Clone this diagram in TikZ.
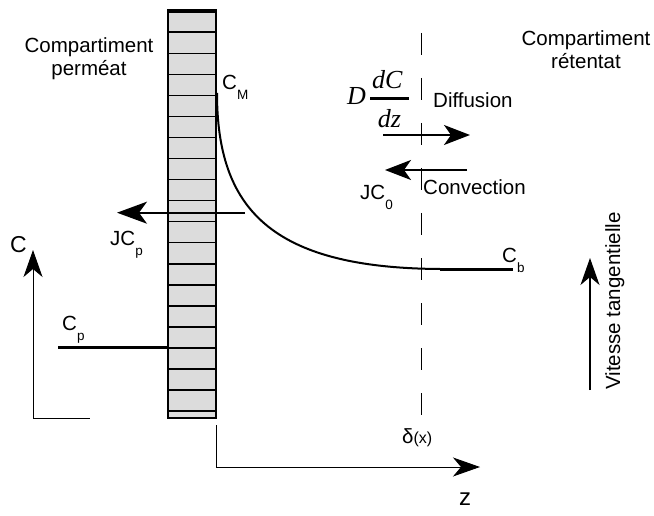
\documentclass[tikz,border=0pt]{standalone}
\usepackage{amsmath}
\usepackage{fontspec}
\setmainfont{Liberation Sans}
\newfontfamily\tmsfont{Liberation Serif}
\usepackage{tikz}
\usetikzlibrary{positioning, arrows.meta}
\definecolor{membGray}{HTML}{DCDCDC}
\newcommand{\lowsub}[1]{\raisebox{-10pt}{\fontsize{13.5}{14}\selectfont #1}}

\begin{document}
\begin{tikzpicture}[x=1pt, y=-1pt, font=\fontsize{20.5}{23}\selectfont,
  lbl/.style={inner sep=0pt, anchor=base west},
  flux/.style={-{Stealth[length=26pt, width=20pt, inset=7pt]}, line width=1.8pt},
  axis/.style={-{Stealth[length=27pt, width=19pt, inset=8pt]}, line width=0.9pt},
  level/.style={line width=3pt}]
  \useasboundingbox (0,0) rectangle (654,516);
  % membrane
  \node[draw, line width=1.6pt, fill=membGray, inner sep=0pt,
        minimum width=48pt, minimum height=406pt] (memb) at (192,215) {};
  \foreach \k in {1,...,19}
    \draw[line width=1.5pt] ([yshift={-21.05*\k}]memb.north west) -- ([yshift={-21.05*\k}]memb.north east);
  \draw[line width=3.5pt] (memb.north west) -- (memb.north east);
  % labels
  \node[anchor=north, align=center, inner sep=0pt] (perm) at (89,37) {Compartiment\\perméat};
  \node[anchor=north, align=center, inner sep=0pt] (ret) at (586,30) {Compartiment\\rétentat};
  \node[lbl] (cm) at (222,90) {C\lowsub{M}};
  \node[lbl, font=\fontsize{26}{30}\selectfont] (grad) at (347,105)
    {{\tmsfont\itshape D}\kern3pt$\genfrac{}{}{3pt}{0}{\hbox{\tmsfont\itshape\kern2pt dC\kern6pt}}{\hbox{\tmsfont\itshape dz}}$};
  \node[lbl] (diff) at (433,108) {Diffusion};
  \node[lbl] (conv) at (423,195) {Convection};
  \node[lbl] (jc0) at (360,200) {JC\lowsub{0}};
  \node[lbl] (jcp) at (110,245) {JC\lowsub{p}};
  \node[lbl] (cp) at (62,330) {C\lowsub{p}};
  \node[lbl] (cb) at (502,262) {C\lowsub{b}};
  \node[lbl, font=\fontsize{23}{26}\selectfont] (cax) at (10,252) {C};
  \node[lbl, font=\fontsize{24}{26}\selectfont] (zax) at (459,505) {z};
  \node[lbl] (delta) at (402,443) {δ{\fontsize{16}{18}\selectfont(x)}};
  \node[lbl, rotate=90] (vit) at (620,390) {Vitesse tangentielle};
  % boundary layer
  \draw[dash pattern=on 22pt off 23pt, line width=0.9pt] (421,33) -- (421,418);
  % concentration profile
  \coordinate (cmTop) at (217,93);
  \coordinate (cbL) at (440,269);
  \coordinate (cbR) at (513,269);
  \draw[line width=2pt] (cmTop) .. controls (217,208) and (270,268) .. (cbL);
  \draw[level] (cbL) -- (cbR);
  \coordinate (cpL) at (58,347);
  \draw[level] (cpL) -- (cpL -| memb.west);
  % fluxes
  \coordinate (diffA) at (383,135);
  \coordinate (diffB) at (470,135);
  \draw[flux] (diffA) -- (diffB);
  \coordinate (convA) at (467,170);
  \coordinate (convB) at (385,170);
  \draw[flux] (convA) -- (convB);
  \coordinate (jcpA) at (245,212.7);
  \coordinate (jcpB) at (117,212.7);
  \draw[flux, -{Stealth[length=30pt, width=22pt, inset=8pt]}] (jcpA) -- (jcpB);
  % axes
  \coordinate (origC) at (33,418);
  \draw[axis] (origC) -- (33,250);
  \draw[line width=0.9pt] (origC) -- (90,418);
  \coordinate (origZ) at (216,425);
  \draw[axis] (origZ) -- (216,467) -- (480,467);
  \coordinate (vitA) at (590,390);
  \coordinate (vitB) at (590,258);
  \draw[axis, line width=1.3pt] (vitA) -- (vitB);
\end{tikzpicture}
\end{document}
